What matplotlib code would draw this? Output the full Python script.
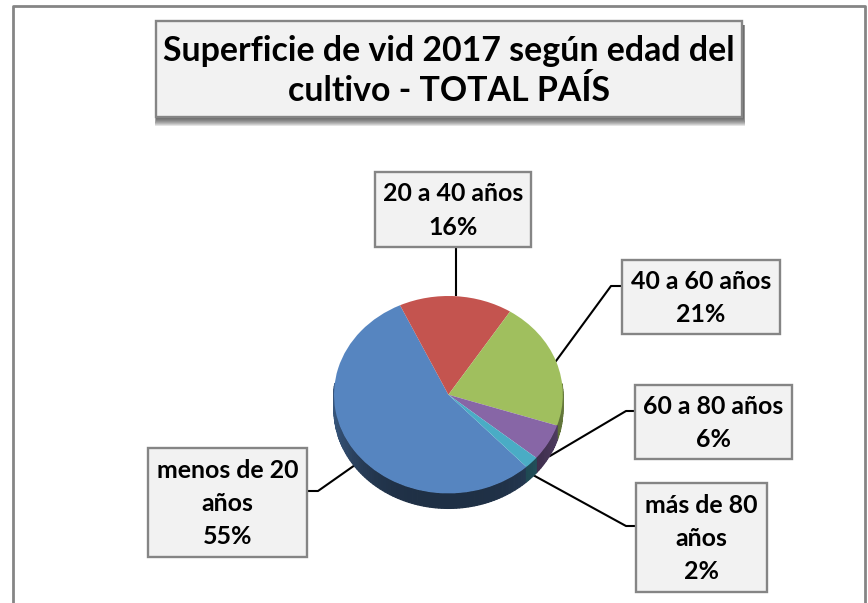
import numpy as np
from matplotlib import pyplot as plt
from matplotlib.patches import Rectangle
from matplotlib.colors import to_rgb

W, H = 868, 603

# data
categories = ["menos de 20 años", "20 a 40 años", "40 a 60 años", "60 a 80 años", "más de 80 años"]
values = [55, 16, 21, 6, 2]
colors = ["#5685c0", "#c4544f", "#a0bf5e", "#8766a6", "#4aacc5"]
title = "Superficie de vid 2017 según edad del\ncultivo - TOTAL PAÍS"
label_lines = ["menos de 20\naños\n55%", "20 a 40 años\n16%", "40 a 60 años\n21%",
               "60 a 80 años\n6%", "más de 80\naños\n2%"]

# layout in pixels: left, top, right, bottom
boxes = [(148, 448, 307, 557), (375, 172, 531, 247), (622, 260, 780, 334),
         (635, 385, 792, 459), (636, 483, 767, 592)]
leaders = [[(307, 491), (318, 491), (355, 465)],
           [(456, 247), (456, 295)],
           [(622, 286), (611, 286), (556, 361)],
           [(635, 411), (626, 411), (550, 456)],
           [(636, 526), (626, 526), (533, 475)]]
cx, cy, rx, ry = 448.4, 394.7, 114.4, 98.7
depth = 15 / ry
start_clock = 137  # where the first slice begins, degrees clockwise from 12

plt.rcParams['font.family'] = ['Lato', 'DejaVu Sans']

fig = plt.figure(figsize=(W / 100, H / 100), dpi=100)
ax = fig.add_axes([0, 0, 1, 1])
ax.set_xlim(0, W)
ax.set_ylim(H, 0)
ax.axis("off")

# chart frame
ax.plot([12.5, 12.5, 864.5, 864.5], [H, 6, 6, H], color="#858585", lw=2.0, zorder=1)


def box(l, t, r, b, lw=1.7):
    ax.add_patch(Rectangle((l, t), r - l, b - t, fc="#f2f2f2", ec="#858585", lw=lw, zorder=4))


# title with soft shadow
for i in range(9, 0, -1):
    ax.add_patch(Rectangle((156 - i * 0.1, 25), 588 + i * 0.2, 92 + i * 1.0,
                           fc="#303030", ec="none", alpha=0.13, zorder=3))
box(156, 21, 742, 117)
ax.text(449, 71, title, ha="center", va="center", fontsize=24.4, fontweight="bold",
        linespacing=1.32, color="black", zorder=5)

for line in leaders:
    xs, ys = zip(*line)
    ax.plot(xs, ys, color="black", lw=1.5, zorder=2)

for (l, t, r, b), txt in zip(boxes, label_lines):
    box(l, t, r, b)
    ax.text((l + r) / 2, (t + b) / 2 + 1, txt, ha="center", va="center", fontsize=17.9,
            fontweight="bold", linespacing=1.54, color="black", zorder=5)

# pie: own axes stretched to the ellipse, so the slices come out flattened
pad = 1.3
pie_ax = fig.add_axes([(cx - rx * pad) / W, 1 - (cy + ry * pad) / H, 2 * rx * pad / W, 2 * ry * pad / H])
pie_ax.patch.set_alpha(0)
pie_ax.pie(values, colors=colors, startangle=90 - start_clock, counterclock=False, radius=1,
           wedgeprops=dict(linewidth=0))
pie_ax.set_aspect("auto")
pie_ax.set_xlim(-pad, pad)
pie_ax.set_ylim(-pad, pad)

# side wall of the pie, darkest along the front
edges = start_clock + np.cumsum([0] + values) * 3.6
for k, col in enumerate(colors):
    a = np.arange(edges[k], edges[k + 1] + 1.5, 1.5)
    a[-1] = edges[k + 1]
    for a0, a1 in zip(a[:-1], a[1:]):
        m = np.deg2rad((a0 + a1) / 2)
        if np.cos(m) > 0.12:
            continue  # back half is hidden behind the top
        shade = 0.36 + 0.28 * np.sin(m) ** 4
        rgb = np.array(to_rgb(col)) * shade
        t = np.deg2rad([a0, a1, a1, a0])
        xs = np.sin(t)
        ys = np.cos(t) - np.array([0, 0, depth, depth])
        pie_ax.fill(xs, ys, color=rgb, lw=0.9, zorder=0)

fig.savefig("out.png", dpi=100)
